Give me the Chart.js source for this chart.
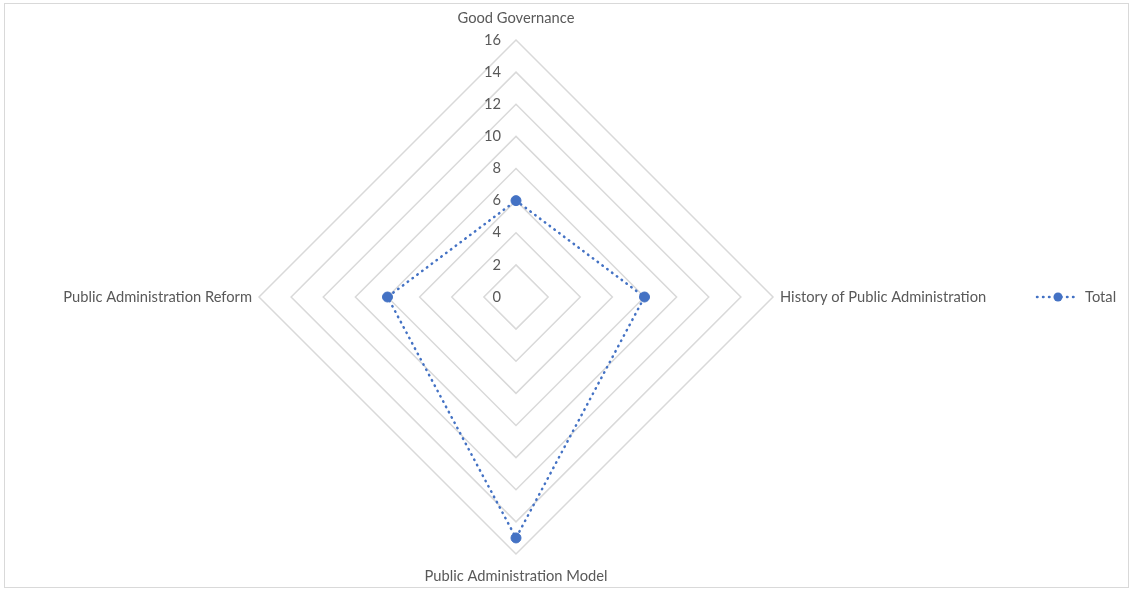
<!DOCTYPE html>
<html>
<head>
<meta charset="utf-8">
<script src="https://cdn.jsdelivr.net/npm/chart.js@4"></script>
<style>
  html, body { margin: 0; padding: 0; background: #fff; }
  #wrap { width: 1132px; height: 590px; position: relative; }
</style>
</head>
<body>
<div id="wrap"><canvas id="radarChart"></canvas></div>
<script>
// Veriler
const kategoriler = ['Good Governance', 'History of Public Administration', 'Public Administration Model', 'Public Administration Reform'];
const toplamDegerler = [6, 8, 15, 8];
const seriAdi = 'Total';
const eksenMax = 16;
const eksenAdim = 2;

const mavi = '#4472C4';
const gri = '#d9d9d9';
const yaziRengi = '#595959';
const yaziFont = '14.7px Lato, "Open Sans", sans-serif';

// Etiketleri, lejantı ve çerçeveyi elle çizen eklenti
const etiketEklentisi = {
    id: 'etiketler',
    afterDraw(chart) {
        const ctx = chart.ctx;
        const scale = chart.scales.r;
        ctx.save();
        ctx.font = yaziFont;
        ctx.fillStyle = yaziRengi;
        ctx.textBaseline = 'middle';

        // Eksen değerleri (merkezin solunda)
        scale.ticks.forEach(t => {
            const d = scale.getDistanceFromCenterForValue(t.value);
            ctx.textAlign = 'right';
            ctx.fillText(String(t.value), scale.xCenter - 15, scale.yCenter - d);
        });

        // Kategori etiketleri
        kategoriler.forEach((ad, i) => {
            const p = scale.getPointPosition(i, scale.drawingArea);
            if (i === 0) {
                ctx.textAlign = 'center';
                ctx.fillText(ad, p.x, p.y - 22);
            } else if (i === 1) {
                ctx.textAlign = 'left';
                ctx.fillText(ad, p.x + 7, p.y);
            } else if (i === 2) {
                ctx.textAlign = 'center';
                ctx.fillText(ad, p.x, p.y + 22);
            } else {
                ctx.textAlign = 'right';
                ctx.fillText(ad, p.x - 7, p.y);
            }
        });

        // Lejant
        const ly = scale.yCenter;
        ctx.strokeStyle = mavi;
        ctx.lineWidth = 2.5;
        ctx.lineCap = 'round';
        ctx.setLineDash([0.5, 5.5]);
        ctx.beginPath();
        ctx.moveTo(1037, ly);
        ctx.lineTo(1078, ly);
        ctx.stroke();
        ctx.setLineDash([]);
        ctx.fillStyle = mavi;
        ctx.beginPath();
        ctx.arc(1058, ly, 4.5, 0, Math.PI * 2);
        ctx.fill();
        ctx.fillStyle = yaziRengi;
        ctx.textAlign = 'left';
        ctx.fillText(seriAdi, 1085, ly);

        // Dış çerçeve
        ctx.strokeStyle = gri;
        ctx.lineWidth = 1;
        ctx.strokeRect(4.5, 3.5, 1124, 584);
        ctx.restore();
    }
};

new Chart(document.getElementById('radarChart'), {
    type: 'radar',
    data: {
        labels: kategoriler,
        datasets: [{
            label: seriAdi,
            data: toplamDegerler,
            borderColor: mavi,
            backgroundColor: 'rgba(0,0,0,0)',
            borderWidth: 2.5,
            borderDash: [0.5, 5.5],
            borderCapStyle: 'round',
            pointBackgroundColor: mavi,
            pointBorderColor: mavi,
            pointRadius: 5,
            pointBorderWidth: 1,
            fill: false
        }]
    },
    options: {
        responsive: true,
        maintainAspectRatio: false,
        animation: false,
        layout: {
            padding: { left: 0, right: 100, top: 40, bottom: 36 }
        },
        scales: {
            r: {
                min: 0,
                max: eksenMax,
                ticks: { stepSize: eksenAdim, display: false },
                pointLabels: { display: false },
                angleLines: { display: false },
                grid: { color: gri, lineWidth: 1.5 }
            }
        },
        plugins: {
            legend: { display: false },
            tooltip: { enabled: false }
        }
    },
    plugins: [etiketEklentisi]
});
</script>
</body>
</html>
